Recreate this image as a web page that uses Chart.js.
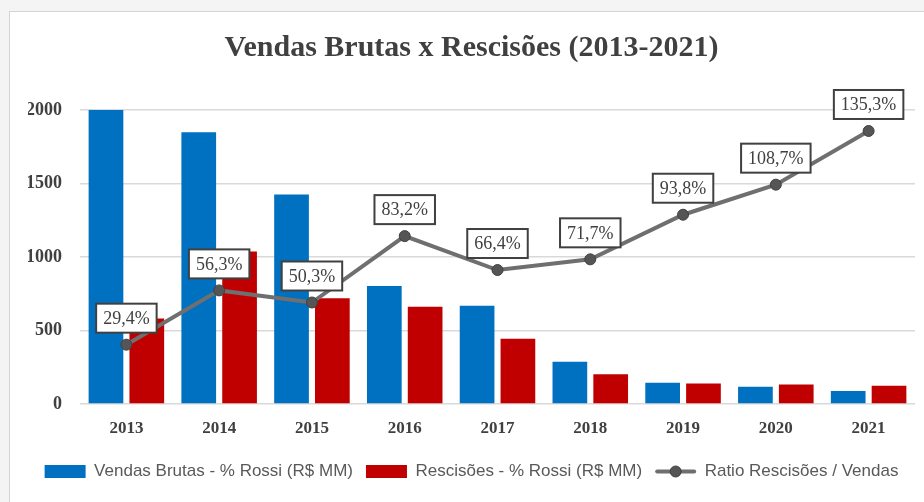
<!DOCTYPE html>
<html>
<head>
<meta charset="utf-8">
<script src="https://cdn.jsdelivr.net/npm/chart.js@4.4.1/dist/chart.umd.min.js"></script>
<style>
  html, body { margin: 0; padding: 0; }
  body { width: 924px; height: 502px; background: #f4f4f4; position: relative; overflow: hidden; }
  #card { position: absolute; left: 9px; top: 11px; width: 940px; height: 520px; background: #fff; border: 1px solid #d4d4d4; }
  #wrap { position: absolute; left: 0; top: 0; width: 924px; height: 502px; }
</style>
</head>
<body>
<div id="card"></div>
<div id="wrap"><canvas id="chart" width="924" height="502"></canvas></div>
<script>
// data
const years = ['2013', '2014', '2015', '2016', '2017', '2018', '2019', '2020', '2021'];
const vendasBrutas = [2000, 1848, 1425, 803, 669, 287, 145, 118, 89];
const rescisoes = [582, 1037, 719, 662, 444, 203, 139, 132, 125];
const ratio = [29.4, 56.3, 50.3, 83.2, 66.4, 71.7, 93.8, 108.7, 135.3];
const yTicks = [0, 500, 1000, 1500, 2000];

const serif = '"Liberation Serif", "Times New Roman", serif';
const sans = '"Liberation Sans", Arial, sans-serif';

// boxed % labels above the line points
const ratioLabels = {
    id: 'ratioLabels',
    afterDatasetsDraw(chart) {
        const meta = chart.getDatasetMeta(2);
        const ctx = chart.ctx;
        ctx.save();
        ctx.font = '18px ' + serif;
        ctx.textAlign = 'center';
        ctx.textBaseline = 'middle';
        meta.data.forEach((pt, i) => {
            const text = ratio[i].toFixed(1).replace('.', ',') + '%';
            const w = ctx.measureText(text).width + 14;
            const h = 29;
            const cx = pt.x;
            const cy = pt.y - 12 - h / 2;
            ctx.fillStyle = '#ffffff';
            ctx.fillRect(cx - w / 2, cy - h / 2, w, h);
            ctx.lineWidth = 2;
            ctx.strokeStyle = '#404040';
            ctx.strokeRect(cx - w / 2, cy - h / 2, w, h);
            ctx.fillStyle = '#404040';
            ctx.fillText(text, cx, cy + 1);
        });
        ctx.restore();
    }
};

// line + marker symbol for the ratio legend entry
const lineLegendSymbol = {
    id: 'lineLegendSymbol',
    afterDraw(chart) {
        const legend = chart.legend;
        if (!legend || !legend.legendHitBoxes) return;
        const idx = legend.legendItems.findIndex(it => it.datasetIndex === 2);
        const box = legend.legendHitBoxes[idx];
        const bw = legend.options.labels.boxWidth;
        const ctx = chart.ctx;
        const y = box.top + box.height / 2;
        ctx.save();
        ctx.strokeStyle = '#6f6f6f';
        ctx.lineWidth = 4;
        ctx.lineCap = 'round';
        ctx.beginPath();
        ctx.moveTo(box.left + 2, y);
        ctx.lineTo(box.left + bw - 2, y);
        ctx.stroke();
        ctx.beginPath();
        ctx.arc(box.left + bw / 2, y, 5.5, 0, Math.PI * 2);
        ctx.fillStyle = '#555555';
        ctx.fill();
        ctx.lineWidth = 1;
        ctx.strokeStyle = '#404040';
        ctx.stroke();
        ctx.restore();
    }
};

const ctx = document.getElementById('chart').getContext('2d');
new Chart(ctx, {
    type: 'bar',
    data: {
        labels: years,
        datasets: [
            {
                label: 'Vendas Brutas - % Rossi (R$ MM)',
                data: vendasBrutas,
                backgroundColor: '#0070C0',
                categoryPercentage: 0.88,
                barPercentage: 0.85,
                yAxisID: 'y',
                order: 2
            },
            {
                label: 'Rescisões - % Rossi (R$ MM)',
                data: rescisoes,
                backgroundColor: '#C00000',
                categoryPercentage: 0.88,
                barPercentage: 0.85,
                yAxisID: 'y',
                order: 2
            },
            {
                type: 'line',
                label: 'Ratio Rescisões / Vendas',
                data: ratio,
                borderColor: '#6f6f6f',
                borderWidth: 4,
                pointRadius: 5.5,
                pointBackgroundColor: '#555555',
                pointBorderColor: '#404040',
                pointBorderWidth: 1,
                tension: 0,
                yAxisID: 'y1',
                order: 1
            }
        ]
    },
    options: {
        responsive: false,
        animation: false,
        layout: { padding: { left: 28, right: 9, top: 0, bottom: 12 } },
        plugins: {
            title: {
                display: true,
                text: 'Vendas Brutas x Rescisões (2013-2021)',
                color: '#404040',
                font: { family: serif, size: 30, weight: 'bold', lineHeight: 1.2 },
                padding: { top: 30, bottom: 44 }
            },
            legend: {
                position: 'bottom',
                labels: {
                    color: '#595959',
                    font: { family: sans, size: 17 },
                    boxWidth: 41,
                    boxHeight: 13,
                    padding: 13,
                    generateLabels(chart) {
                        const items = Chart.defaults.plugins.legend.labels.generateLabels(chart);
                        items.sort((a, b) => a.datasetIndex - b.datasetIndex);
                        const line = items.find(it => it.datasetIndex === 2);
                        line.fillStyle = 'rgba(0,0,0,0)';
                        line.strokeStyle = 'rgba(0,0,0,0)';
                        line.lineWidth = 0;
                        return items;
                    }
                }
            },
            tooltip: { enabled: false }
        },
        scales: {
            x: {
                grid: { display: false, drawTicks: false },
                border: { display: false },
                ticks: {
                    color: '#404040',
                    font: { family: serif, size: 17, weight: 'bold' },
                    padding: 14
                },
                afterFit(scale) { scale.height = 46; }
            },
            y: {
                min: 0,
                max: 2000,
                afterBuildTicks(scale) { scale.ticks = yTicks.map(v => ({ value: v })); },
                grid: { color: '#d9d9d9', lineWidth: 1.5, drawTicks: false },
                border: { display: false },
                ticks: {
                    color: '#404040',
                    font: { family: serif, size: 18, weight: 'bold' },
                    padding: 18,
                    callback: (v) => String(v)
                },
                afterFit(scale) { scale.width = 52; }
            },
            y1: {
                display: false,
                min: 0,
                max: 145.7
            }
        }
    },
    plugins: [ratioLabels, lineLegendSymbol]
});
</script>
</body>
</html>
